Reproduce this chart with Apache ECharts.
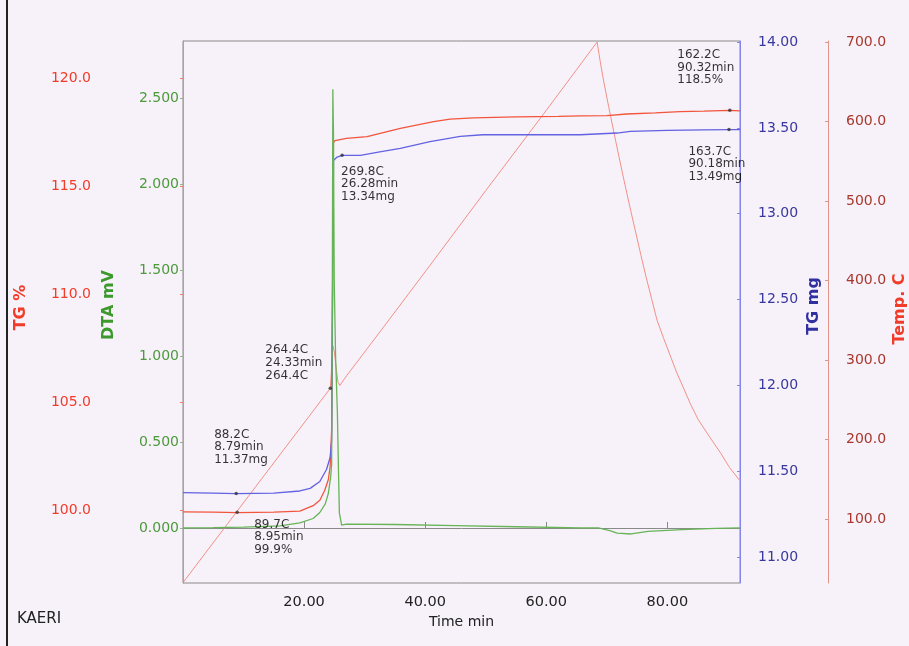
<!DOCTYPE html>
<html><head><meta charset="utf-8">
<script src="https://cdn.jsdelivr.net/npm/echarts@6/dist/echarts.min.js"></script>
<style>html,body{margin:0;padding:0;background:#f7f1f9;}#c{width:909px;height:646px;}</style>
</head><body><div id="c"></div>
<script>
// ---- tick values ----
const xTickValues = [20, 40, 60, 80];
const pctTickValues = [100, 105, 110, 115, 120];
const dtaTickValues = [0, 0.5, 1, 1.5, 2, 2.5];
const mgTickValues = [11, 11.5, 12, 12.5, 13, 13.5, 14];
const tempTickValues = [100, 200, 300, 400, 500, 600, 700];

// ---- DTA mV ----
const dtaTime  = [0, 5, 10, 16, 19.3, 21.5, 22.6, 23.5, 24.0, 24.4, 24.55, 24.65, 24.75, 24.85, 24.98, 25.2, 25.5, 25.7, 25.83, 26.2, 27, 35, 45, 55, 65.6, 68.6, 70.5, 71.7, 74.0, 76.8, 82.4, 88, 92];
const dtaValue = [0.0, 0.002, 0.005, 0.012, 0.03, 0.055, 0.09, 0.14, 0.2, 0.3, 0.37, 1.2, 2.55, 2.3, 1.44, 1.0, 0.67, 0.3, 0.087, 0.017, 0.022, 0.02, 0.014, 0.007, 0.0, 0.0, -0.015, -0.03, -0.035, -0.02, -0.01, -0.003, 0.0];

// ---- TG % ----
const pctTime  = [0, 5, 9, 15, 19.3, 21.5, 22.6, 23.4, 24.0, 24.3, 24.55, 24.7, 24.85, 25.1, 27, 30.4, 35.9, 41.4, 44.1, 48, 55, 62, 65.6, 70, 73.3, 78, 82.1, 86, 90.32, 92];
const pctValue = [99.91, 99.9, 99.88, 99.9, 99.95, 100.2, 100.45, 100.9, 101.4, 102.0, 103.7, 110, 117.0, 117.1, 117.2, 117.28, 117.67, 117.98, 118.09, 118.15, 118.2, 118.22, 118.24, 118.26, 118.33, 118.38, 118.44, 118.46, 118.5, 118.48];

// ---- TG mg ----
const mgTime  = [0, 5, 8.79, 15, 19.3, 21.0, 22.6, 23.7, 24.3, 24.55, 24.7, 24.86, 25.45, 26.28, 29.3, 32.5, 35.9, 40.8, 45.8, 49.5, 52.4, 60.7, 65.6, 71.7, 73.9, 80, 86, 90.18, 92];
const mgValue = [11.375, 11.373, 11.37, 11.372, 11.385, 11.40, 11.44, 11.51, 11.58, 11.68, 12.5, 13.31, 13.33, 13.34, 13.34, 13.36, 13.38, 13.42, 13.45, 13.46, 13.46, 13.46, 13.46, 13.47, 13.48, 13.485, 13.488, 13.49, 13.49];

// ---- Temperature C ----
const tempTime  = [0, 12, 24.33, 24.55, 24.75, 25.0, 25.3, 25.6, 25.9, 27, 30.9, 40, 50, 60, 68.4, 68.9, 69.5, 70.3, 71.1, 72.0, 72.9, 73.8, 74.7, 75.6, 76.5, 77.4, 78.3, 79.4, 80.5, 81.5, 82.6, 83.8, 85.1, 87.0, 88.8, 90.25, 92];
const tempValue = [20, 140.6, 264.4, 290, 318, 310, 290, 272, 268, 280, 319, 411, 513, 614, 700, 676, 650, 619, 589, 556, 524, 493, 463, 433, 404, 377, 350, 327, 305, 285, 266, 245, 225, 203, 183, 165, 148];

// ---- annotations ----
const annoTime  = [8.79, 8.95, 24.33, 26.28, 90.32, 90.18];
const annoValue = [11.37, 99.9, 264.4, 13.34, 118.5, 13.49];
const annoAxis  = ['mg', 'pct', 'temp', 'mg', 'pct', 'mg'];
const annoText  = [
  ['88.2C', '8.79min', '11.37mg'],
  ['89.7C', '8.95min', '99.9%'],
  ['264.4C', '24.33min', '264.4C'],
  ['269.8C', '26.28min', '13.34mg'],
  ['162.2C', '90.32min', '118.5%'],
  ['163.7C', '90.18min', '13.49mg']
];

// ---- layout (not data) ----
const annoOffset = [[-22, -46.5], [17, 25], [-65, -25.5], [-1, 29], [-52.5, -42.7], [-40.5, 34.5]];
const axisIndex = { pct: 0, dta: 1, mg: 2, temp: 3 };
const FONT = '"DejaVu Sans", sans-serif';

function zip(a, b) { return a.map((t, i) => [t, b[i]]); }

const chart = echarts.init(document.getElementById('c'), null, { renderer: 'canvas' });

const annoSeries = annoTime.map((t, i) => ({
  type: 'scatter',
  yAxisIndex: axisIndex[annoAxis[i]],
  data: [[t, annoValue[i]]],
  symbol: 'circle',
  symbolSize: 3.5,
  itemStyle: { color: '#333' },
  z: 10,
  silent: true,
  label: {
    show: true,
    position: 'inside',
    align: 'left',
    verticalAlign: 'middle',
    offset: annoOffset[i],
    formatter: annoText[i].join('\n'),
    color: '#000',
    textBorderWidth: 0,
    textBorderColor: 'transparent',
    fontSize: 12,
    lineHeight: 12.6,
    fontFamily: FONT
  }
}));

function yAxisBase(pos, offset, min, max, ticks, decimals, lineColor, labelColor, tickInside, margin) {
  return {
    type: 'value', position: pos, offset: offset, min: min, max: max,
    axisLine: { show: true, lineStyle: { color: lineColor, width: 1 } },
    axisTick: { show: true, inside: tickInside, length: 3, customValues: ticks, lineStyle: { color: lineColor } },
    axisLabel: { show: true, customValues: ticks, margin: margin, color: labelColor, fontSize: 14, fontFamily: FONT,
      formatter: v => Number(v).toFixed(decimals) },
    splitLine: { show: false }
  };
}

const option = {
  animation: false,
  backgroundColor: '#f7f1f9',
  textStyle: { fontFamily: FONT },
  grid: { left: 183, right: 169, top: 41, bottom: 63, show: true, borderColor: '#8a8a8a', borderWidth: 1, backgroundColor: 'transparent' },
  xAxis: {
    type: 'value', min: 0, max: 92,
    name: 'Time min', nameLocation: 'middle', nameGap: 30,
    nameTextStyle: { color: '#222', fontSize: 14, fontFamily: FONT },
    axisLine: { lineStyle: { color: '#8a8a8a' } },
    axisTick: { inside: true, length: 6, customValues: xTickValues, lineStyle: { color: '#8a8a8a' } },
    axisLabel: { customValues: xTickValues, margin: 12, color: '#222', fontSize: 14.5, fontFamily: FONT,
      formatter: v => Number(v).toFixed(2) },
    splitLine: { show: false }
  },
  yAxis: [
    yAxisBase('left', 88, 96.62, 121.71, pctTickValues, 1, '#f07a6a', '#f03c28', false, 4),
    yAxisBase('left', 0, -0.320, 2.831, dtaTickValues, 3, '#93b38a', '#4c9a3c', false, 4),
    yAxisBase('right', 0, 10.849, 14.006, mgTickValues, 2, '#8484ea', '#3838a0', true, 18),
    yAxisBase('right', 88, 19.5, 701.3, tempTickValues, 1, '#e0948a', '#a8382c', true, 18)
  ],
  graphic: [
    { type: 'rect', shape: { x: 6, y: 0, width: 2, height: 646 }, style: { fill: '#222' } },
    { type: 'text', x: 20.5, y: 307.5, rotation: Math.PI / 2, style: { text: 'TG %', fill: '#f03c28', font: 'bold 16px ' + FONT, align: 'center', verticalAlign: 'middle' } },
    { type: 'text', x: 108.5, y: 305, rotation: Math.PI / 2, style: { text: 'DTA mV', fill: '#3c9a2c', font: 'bold 16px ' + FONT, align: 'center', verticalAlign: 'middle' } },
    { type: 'text', x: 813.5, y: 306, rotation: Math.PI / 2, style: { text: 'TG mg', fill: '#3030a0', font: 'bold 16px ' + FONT, align: 'center', verticalAlign: 'middle' } },
    { type: 'text', x: 900, y: 309, rotation: Math.PI / 2, style: { text: 'Temp. C', fill: '#f03c28', font: 'bold 16px ' + FONT, align: 'center', verticalAlign: 'middle' } },
    { type: 'text', x: 17, y: 619.5, style: { text: 'KAERI', fill: '#222', font: '15px ' + FONT, align: 'left', verticalAlign: 'middle' } }
  ],
  series: [
    { name: 'Temp', type: 'line', yAxisIndex: 3, data: zip(tempTime, tempValue), showSymbol: false,
      lineStyle: { color: '#f29088', width: 1 }, z: 2 },
    { name: 'TG %', type: 'line', yAxisIndex: 0, data: zip(pctTime, pctValue), showSymbol: false,
      lineStyle: { color: '#f2553c', width: 1.3 }, z: 3 },
    { name: 'TG mg', type: 'line', yAxisIndex: 2, data: zip(mgTime, mgValue), showSymbol: false,
      lineStyle: { color: '#6262e2', width: 1.3 }, z: 4 },
    { name: 'DTA', type: 'line', yAxisIndex: 1, data: zip(dtaTime, dtaValue), showSymbol: false,
      lineStyle: { color: '#66b456', width: 1.3 }, z: 5 }
  ].concat(annoSeries)
};
chart.setOption(option);
</script>
</body></html>
